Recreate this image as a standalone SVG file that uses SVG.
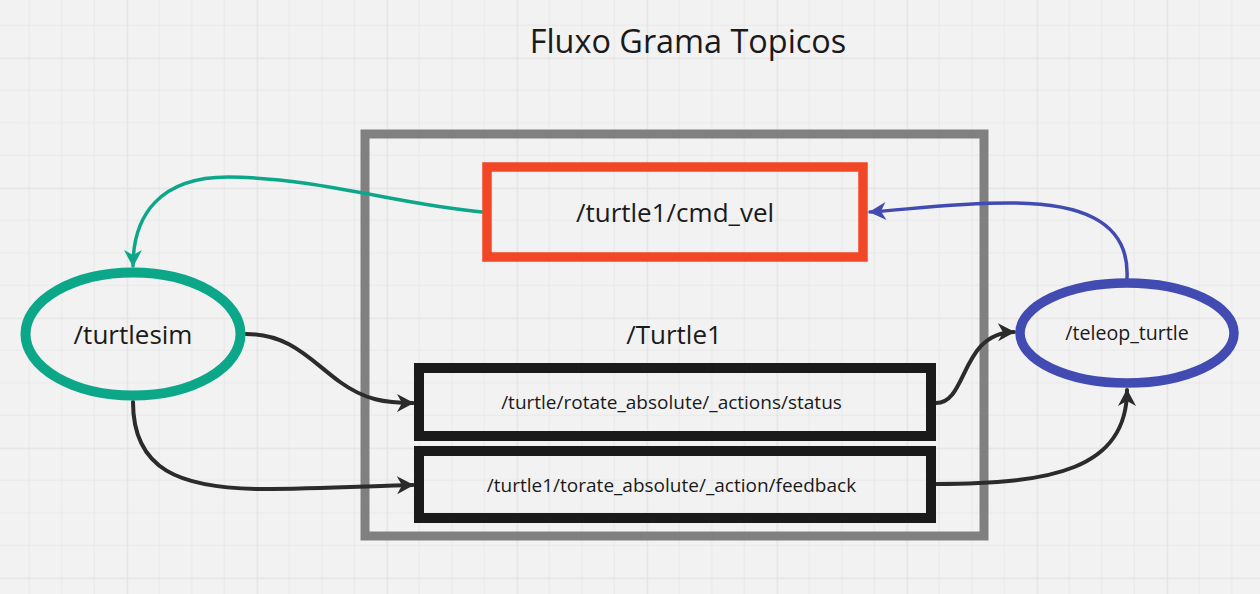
<svg xmlns="http://www.w3.org/2000/svg" width="1260" height="594" viewBox="0 0 1260 594">
<style>
text{font-family:"Open Sans","Liberation Sans",sans-serif;fill:#1a1a1a;text-anchor:middle}
.conn{fill:none;stroke-linecap:round}
.k{stroke:#2b2b2b;stroke-width:4}
</style>
<defs>
<pattern id="grid" patternUnits="userSpaceOnUse" x="-3.3" y="-72.3" width="130" height="130">
<rect width="130" height="130" fill="#f2f2f2"/>
<path d="M32.5 0V130M65 0V130M97.5 0V130M0 32.5H130M0 65H130M0 97.5H130" stroke="#e8e8e8" stroke-width="1"/>
<path d="M0.5 0V130M0 0.5H130" stroke="#e2e2e2" stroke-width="1.5"/>
</pattern>
<marker id="ak" markerUnits="userSpaceOnUse" viewBox="-18 -10 20 20" refX="0" refY="0" markerWidth="20" markerHeight="20" orient="auto">
<path d="M1,0 L-16,-9 L-11,0 L-16,9 Z" fill="#2b2b2b"/>
</marker>
<marker id="at" markerUnits="userSpaceOnUse" viewBox="-18 -10 20 20" refX="0" refY="0" markerWidth="20" markerHeight="20" orient="auto">
<path d="M1,0 L-16,-9 L-11,0 L-16,9 Z" fill="#0ca789"/>
</marker>
<marker id="ab" markerUnits="userSpaceOnUse" viewBox="-18 -10 20 20" refX="0" refY="0" markerWidth="20" markerHeight="20" orient="auto">
<path d="M1,0 L-16,-9 L-11,0 L-16,9 Z" fill="#414bb2"/>
</marker>
</defs>
<rect width="1260" height="594" fill="url(#grid)"/>
<text x="688" y="53" font-size="32.4">Fluxo Grama Topicos</text>
<g id="frame-turtle1">
<rect x="365" y="134" width="619" height="402" fill="none" stroke="#808080" stroke-width="9"/>
<text x="674" y="344" font-size="26">/Turtle1</text>
</g>
<g id="connectors">
<path class="conn" d="M482,212 C400,205 320,178 228,177 C160,177 133,215 133,266" stroke="#0ca789" stroke-width="3.5" marker-end="url(#at)"/>
<path class="conn" d="M1127,278 C1130,218 1075,203 1010,203 C950,203 905,210 870,212" stroke="#414bb2" stroke-width="3.5" marker-end="url(#ab)"/>
<path class="conn k" d="M246,334 C290,334 310,360 340,382 C365,400 385,403 413,403" marker-end="url(#ak)"/>
<path class="conn k" d="M133,402 C133,470 180,488 260,489 C320,489 370,486 413,485" marker-end="url(#ak)"/>
<path class="conn k" d="M936,403 C968,403 960,333 1014,332" marker-end="url(#ak)"/>
<path class="conn k" d="M936,484 C1050,484 1127,470 1127,390" marker-end="url(#ak)"/>
</g>
<g id="node-cmd-vel">
<rect x="487" y="167" width="376" height="90" fill="none" stroke="#f24726" stroke-width="9.5"/>
<text x="675" y="222" font-size="26">/turtle1/cmd_vel</text>
</g>
<g id="node-turtlesim">
<ellipse cx="133" cy="334" rx="107.5" ry="61.5" fill="none" stroke="#0ca789" stroke-width="10"/>
<text x="133" y="344" font-size="26">/turtlesim</text>
</g>
<g id="node-teleop">
<ellipse cx="1127" cy="333" rx="107" ry="50" fill="none" stroke="#414bb2" stroke-width="9.5"/>
<text x="1127" y="340" font-size="19.6">/teleop_turtle</text>
</g>
<g id="node-status">
<rect x="419" y="368" width="512" height="68" fill="none" stroke="#1a1a1a" stroke-width="10"/>
<text x="671.5" y="409" font-size="19">/turtle/rotate_absolute/_actions/status</text>
</g>
<g id="node-feedback">
<rect x="419" y="451" width="512" height="67" fill="none" stroke="#1a1a1a" stroke-width="10"/>
<text x="671.5" y="492" font-size="19">/turtle1/torate_absolute/_action/feedback</text>
</g>
</svg>
